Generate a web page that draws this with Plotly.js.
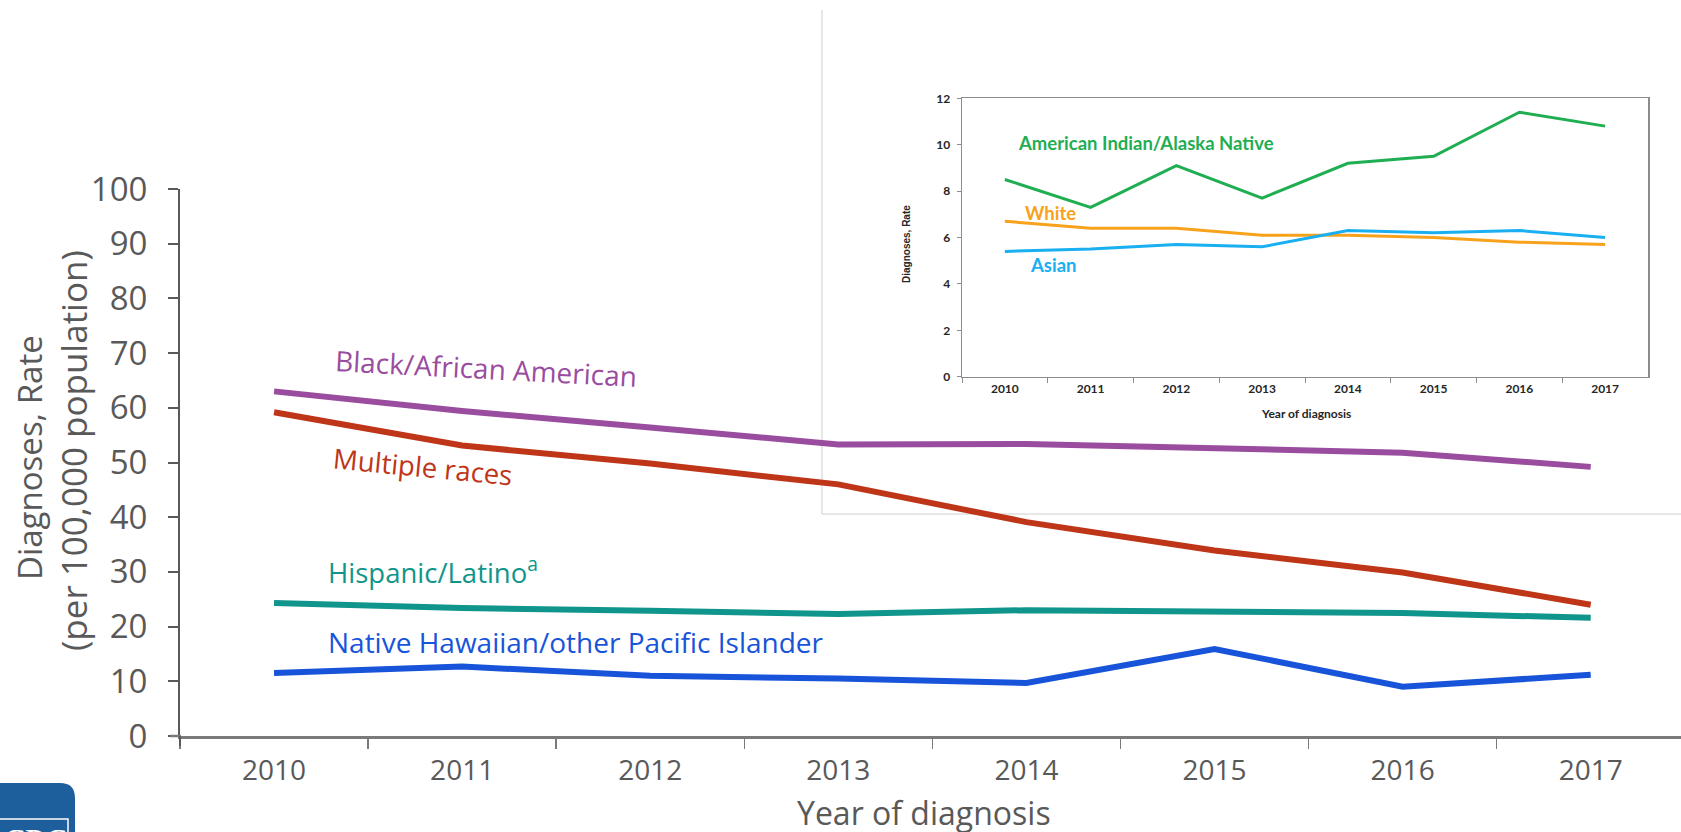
<!DOCTYPE html>
<html><head><meta charset="utf-8">
<script src="https://cdn.plot.ly/plotly-3.0.1.min.js"></script>
<style>html,body{margin:0;padding:0;background:#fff;overflow:hidden}</style>
</head><body><div id="chart" style="width:1681px;height:832px"></div>
<script>
// ---- data ----
const years = ['2010','2011','2012','2013','2014','2015','2016','2017'];
const blackAA   = [63.0, 59.4, 56.4, 53.3, 53.4, 52.6, 51.8, 49.2];
const multiRace = [59.2, 53.1, 49.8, 46.0, 39.1, 33.9, 29.9, 24.0];
const hispanic  = [24.3, 23.4, 22.9, 22.3, 23.0, 22.7, 22.5, 21.6];
const nhopi     = [11.5, 12.7, 11.0, 10.5, 9.7, 15.9, 9.0, 11.2];
// inset
const aian  = [8.5, 7.3, 9.1, 7.7, 9.2, 9.5, 11.4, 10.8];
const white = [6.7, 6.4, 6.4, 6.1, 6.1, 6.0, 5.8, 5.7];
const asian = [5.4, 5.5, 5.7, 5.6, 6.3, 6.2, 6.3, 6.0];
const mainTicks  = [0,10,20,30,40,50,60,70,80,90,100];
const insetTicks = [0,2,4,6,8,10,12];

// ---- layout helpers (pixel -> paper) ----
const W = 1681, H = 832;
const px = x => x / W;
const py = y => 1 - y / H;

const C = {black:'#9a4d9f', multi:'#be3518', hisp:'#0f958b', nhopi:'#1854d9',
           aian:'#1fae52', white:'#f8a21c', asian:'#19aff0', axis:'#595959'};

const traces = [
  {x: years, y: blackAA,   mode:'lines', line:{color:C.black, width:6}, xaxis:'x', yaxis:'y'},
  {x: years, y: multiRace, mode:'lines', line:{color:C.multi, width:6}, xaxis:'x', yaxis:'y'},
  {x: years, y: hispanic,  mode:'lines', line:{color:C.hisp,  width:6}, xaxis:'x', yaxis:'y'},
  {x: years, y: nhopi,     mode:'lines', line:{color:C.nhopi, width:6}, xaxis:'x', yaxis:'y'},
  {x: years, y: aian,  mode:'lines', line:{color:C.aian,  width:3}, xaxis:'x2', yaxis:'y2'},
  {x: years, y: white, mode:'lines', line:{color:C.white, width:3}, xaxis:'x2', yaxis:'y2'},
  {x: years, y: asian, mode:'lines', line:{color:C.asian, width:3}, xaxis:'x2', yaxis:'y2'}
];

const OS = '"Open Sans", sans-serif';
const LT = 'Lato, "Open Sans", sans-serif';
const insetFont = {family:LT, size:12, color:'#262626', weight:700};

function lab(text, x, y, font, extra) {
  return Object.assign({text, x:px(x), y:py(y), xref:'paper', yref:'paper', showarrow:false,
    xanchor:'center', yanchor:'middle', font}, extra || {});
}

const layout = {
  width: W, height: H,
  margin: {l:0, r:0, t:0, b:0},
  paper_bgcolor:'#ffffff', plot_bgcolor:'rgba(0,0,0,0)',
  showlegend:false,
  xaxis: {
    domain:[px(180), 1], type:'category', range:[-0.5, 7.48],
    showgrid:false, zeroline:false,
    showline:true, linecolor:'#7a7a7a', linewidth:2.5,
    ticks:'outside', tickson:'boundaries', ticklen:10, tickwidth:1.5, tickcolor:'#7a7a7a',
    tickfont:{family:OS, size:28, color:C.axis},
    ticklabelstandoff: 8,
    anchor:'y', fixedrange:true
  },
  yaxis: {
    domain:[py(736), py(189)], range:[0,100], tickvals: mainTicks,
    showgrid:false, zeroline:false,
    showline:true, linecolor:C.axis, linewidth:2,
    ticks:'outside', ticklen:10, tickwidth:2, tickcolor:C.axis,
    tickfont:{family:OS, size:33, color:C.axis},
    ticklabelstandoff: 14,
    anchor:'x', fixedrange:true
  },
  xaxis2: {
    domain:[px(962), px(1648)], type:'category', range:[-0.5, 7.5],
    showgrid:false, zeroline:false,
    showline:true, mirror:true, linecolor:'#8c8c8c', linewidth:1.5,
    ticks:'outside', tickson:'boundaries', ticklen:5, tickcolor:'#8c8c8c',
    tickfont: insetFont, anchor:'y2', fixedrange:true
  },
  yaxis2: {
    domain:[py(376.7), py(98.3)], range:[0,12], tickvals: insetTicks,
    showgrid:false, zeroline:false,
    showline:true, mirror:true, linecolor:'#8c8c8c', linewidth:1.5,
    ticks:'outside', ticklen:4, tickcolor:'#8c8c8c',
    ticklabelstandoff: 4,
    tickfont: insetFont, anchor:'x2', fixedrange:true
  },
  shapes: [
    // inset picture frame
    {type:'line', xref:'paper', yref:'paper', x0:px(822), x1:px(822), y0:py(10), y1:py(514), line:{color:'#cfcfcf', width:1}, layer:'below'},
    {type:'line', xref:'paper', yref:'paper', x0:px(822), x1:1, y0:py(514), y1:py(514), line:{color:'#cfcfcf', width:1}, layer:'below'},
    // axis line overhangs
    {type:'line', xref:'paper', yref:'paper', x0:px(170), x1:px(181), y0:py(736), y1:py(736), line:{color:'#7a7a7a', width:2.5}},
    {type:'line', xref:'paper', yref:'paper', x0:px(180), x1:px(180), y0:py(736), y1:py(746), line:{color:C.axis, width:2}},
    // CDC logo block
    {type:'path', xref:'paper', yref:'paper',
     path:`M ${px(-5)} ${py(783)} L ${px(60)} ${py(783)} Q ${px(75)} ${py(783)} ${px(75)} ${py(798)} L ${px(75)} ${py(840)} L ${px(-5)} ${py(840)} Z`,
     fillcolor:'#1d5e9c', line:{width:0}},
    {type:'rect', xref:'paper', yref:'paper', x0:px(-2), x1:px(68), y0:py(819), y1:py(845),
     line:{color:'#ffffff', width:1.5}, fillcolor:'rgba(0,0,0,0)'}
  ],
  annotations: [
    // main series labels
    lab('Black/African American', 486, 368, {family:OS, size:28, color:C.black}, {textangle:3}),
    lab('Multiple races', 423, 466, {family:OS, size:27.5, color:C.multi}, {textangle:5.5}),
    lab('Hispanic/Latino<sup>a</sup>', 326, 570, {family:OS, size:27.5, color:C.hisp}, {xanchor:'left'}),
    lab('Native Hawaiian/other Pacific Islander', 326, 642, {family:OS, size:28, color:C.nhopi}, {xanchor:'left'}),
    // main axis titles
    lab('Diagnoses, Rate', 29, 458, {family:OS, size:33, color:C.axis}, {textangle:-90}),
    lab('(per 100,000 population)', 73, 451, {family:OS, size:35, color:C.axis}, {textangle:-90}),
    lab('Year of diagnosis', 924, 812, {family:OS, size:32, color:C.axis}),
    // inset labels
    lab('American Indian/Alaska Native', 1016, 143, {family:LT, size:18.5, color:C.aian, weight:700}, {xanchor:'left'}),
    lab('White', 1023, 213, {family:LT, size:18.5, color:C.white, weight:700}, {xanchor:'left'}),
    lab('Asian', 1028, 265, {family:LT, size:18.5, color:C.asian, weight:700}, {xanchor:'left'}),
    lab('Year of diagnosis', 1306, 413, insetFont),
    lab('Diagnoses, Rate', 906, 244, {family:'"Liberation Sans", Arial, sans-serif', size:10, color:'#262626', weight:700}, {textangle:-90}),
    // CDC logo text
    lab('<i><b>CDC</b></i>', 34, 838, {family:'"Liberation Serif", serif', size:30, color:'#ffffff'})
  ]
};

Plotly.newPlot('chart', traces, layout, {staticPlot:true, displayModeBar:false});
</script>
</body></html>
